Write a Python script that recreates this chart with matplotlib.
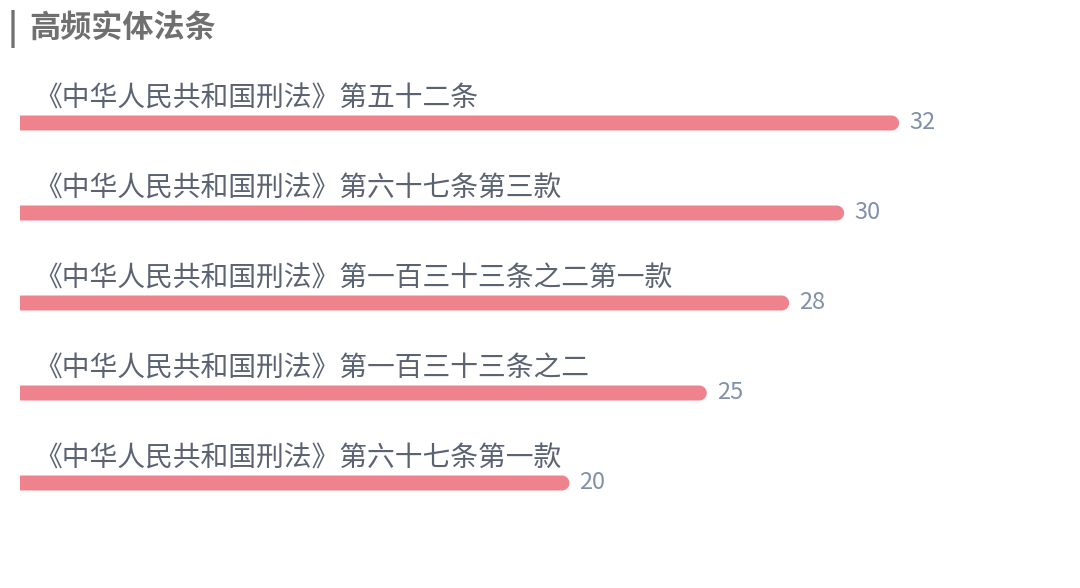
import matplotlib
matplotlib.use("Agg")
import matplotlib.pyplot as plt
from matplotlib.patches import Polygon
import numpy as np

plt.rcParams['font.family'] = ['Noto Sans CJK SC', 'DejaVu Sans']

title = "高频实体法条"
labels = [
    "《中华人民共和国刑法》第五十二条",
    "《中华人民共和国刑法》第六十七条第三款",
    "《中华人民共和国刑法》第一百三十三条之二第一款",
    "《中华人民共和国刑法》第一百三十三条之二",
    "《中华人民共和国刑法》第六十七条第一款",
]
counts = [32, 30, 28, 25, 20]

bar_color = "#ee838d"
label_color = "#5b6373"
value_color = "#8290aa"

W, H = 1080, 588
px_per_unit = 27.47   # bar length scale in pixels per count
x0_px = 20            # bar start
y0_px = 123           # first bar centre
step_px = 90          # spacing between bars
bar_px = 15           # bar thickness

fig = plt.figure(figsize=(W / 100, H / 100), dpi=100)
ax = fig.add_axes([0, 0, 1, 1])
ax.set_xlim(-x0_px / px_per_unit, (W - x0_px) / px_per_unit)
ax.set_ylim((H - y0_px) / step_px, -y0_px / step_px)
ax.axis("off")

r = bar_px / 2 / px_per_unit
h = bar_px / step_px
t = np.linspace(-np.pi / 2, np.pi / 2, 40)
for i, (lab, v) in enumerate(zip(labels, counts)):
    # bar with a square left end and a rounded right end
    arc = np.column_stack([v - r + r * np.cos(t), i + h / 2 * np.sin(t)])
    pts = np.vstack([[0, i - h / 2], arc, [0, i + h / 2]])
    ax.add_patch(Polygon(pts, closed=True, facecolor=bar_color,
                         edgecolor="none"))
    ax.text(14 / px_per_unit, i - 0.27, lab, fontsize=20, color=label_color,
            ha="left", va="center")
    ax.text(v + 10 / px_per_unit, i - 0.01, str(v), fontsize=17,
            color=value_color, ha="left", va="center")

fig.text(8 / W, 1 - 29 / H, "|", fontsize=24, fontweight="heavy",
         color="#707070", ha="left", va="center")
fig.text(29 / W, 1 - 28 / H, title, fontsize=22.4, fontweight="bold",
         color="#707070", ha="left", va="center")

fig.savefig("out.png", dpi=100)
